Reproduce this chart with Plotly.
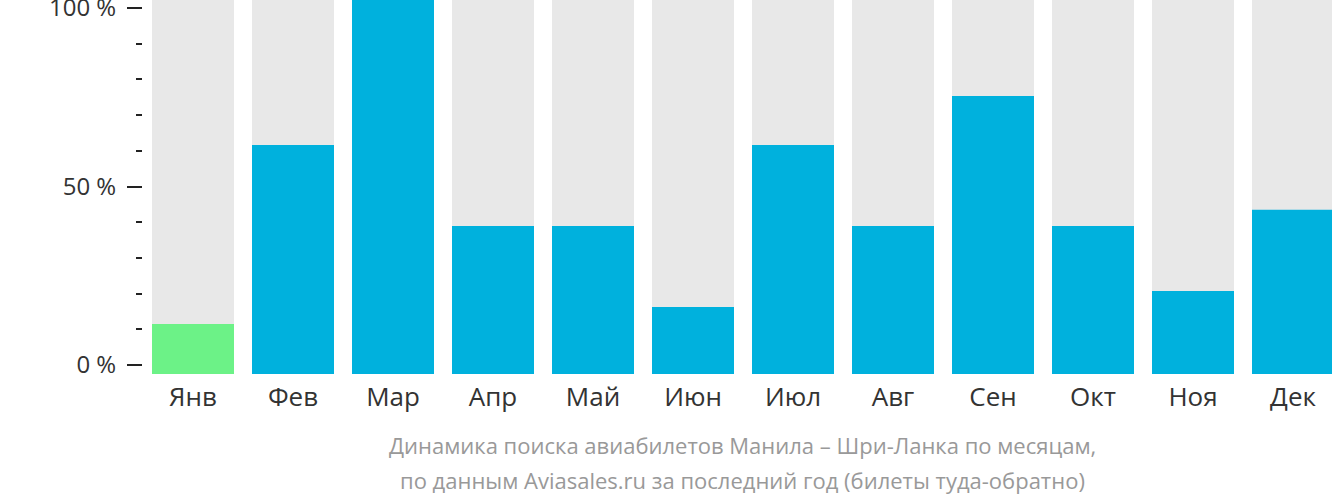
import plotly.graph_objects as go

months = ["Янв", "Фев", "Мар", "Апр", "Май", "Июн", "Июл", "Авг", "Сен", "Окт", "Ноя", "Дек"]
values = [13.4, 61.2, 100, 39.6, 39.6, 17.9, 61.2, 39.6, 74.3, 39.6, 22.2, 43.9]
full = [100] * 12
colors = ["#6cf287"] + ["#00b1dd"] * 11

tick_labels = ["0 %", "50 %", "100 %"]
tick_pos = [2.41, 50.13, 97.86]
minor_step = 9.545

title_lines = ["Динамика поиска авиабилетов Манила – Шри-Ланка по месяцам,",
               "по данным Aviasales.ru за последний год (билеты туда-обратно)"]

fig = go.Figure()
fig.add_trace(go.Bar(x=months, y=full, marker=dict(color="#e8e8e8", line=dict(width=0)),
                     width=0.82, hoverinfo="skip", showlegend=False))
fig.add_trace(go.Bar(x=months, y=values, marker=dict(color=colors, line=dict(width=0)),
                     width=0.82, showlegend=False))

fig.update_layout(
    width=1332, height=502,
    barmode="overlay",
    margin=dict(l=143, r=0, t=0, b=128, autoexpand=False),
    paper_bgcolor="white", plot_bgcolor="white",
    font=dict(family="Open Sans", color="#333333"),
    xaxis=dict(range=[-0.5, 11.39], showgrid=False, showline=False, zeroline=False,
               automargin=False,
               ticks="", tickfont=dict(size=26, color="#333333"), ticklabelstandoff=5),
    yaxis=dict(range=[0, 100], showgrid=False, showline=False, zeroline=False,
               automargin=False,
               tickmode="array", tickvals=tick_pos, ticktext=tick_labels,
               ticks="outside", ticklen=15, tickwidth=2, tickcolor="#222222",
               ticklabeloverflow="allow",
               tickfont=dict(size=24, color="#333333"), ticklabelstandoff=6,
               minor=dict(tick0=tick_pos[0], dtick=minor_step, ticks="outside",
                          ticklen=6, tickwidth=2, tickcolor="#222222")),
    annotations=[
        dict(text=title_lines[0], xref="paper", yref="paper", x=0.504, y=-0.19,
             xanchor="center", yanchor="middle", showarrow=False,
             font=dict(size=22, color="#999999", family="Open Sans")),
        dict(text=title_lines[1], xref="paper", yref="paper", x=0.504, y=-0.2834,
             xanchor="center", yanchor="middle", showarrow=False,
             font=dict(size=22, color="#999999", family="Open Sans")),
    ],
)

fig.write_html("out.html")
